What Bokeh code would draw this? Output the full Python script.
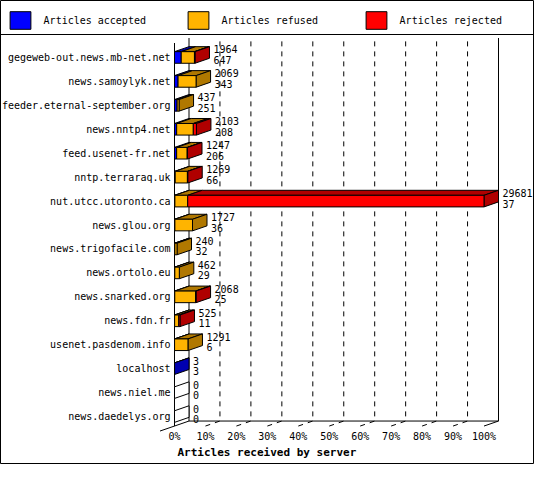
from bokeh.plotting import figure
from bokeh.models import Range1d, Span, Legend, LegendItem
from bokeh.core.properties import value
from bokeh.embed import file_html
from bokeh.resources import INLINE

# ---------------- data ----------------
hosts = [
    "gegeweb-out.news.mb-net.net",
    "news.samoylyk.net",
    "feeder.eternal-september.org",
    "news.nntp4.net",
    "feed.usenet-fr.net",
    "nntp.terraraq.uk",
    "nut.utcc.utoronto.ca",
    "news.glou.org",
    "news.trigofacile.com",
    "news.ortolo.eu",
    "news.snarked.org",
    "news.fdn.fr",
    "usenet.pasdenom.info",
    "localhost",
    "news.niel.me",
    "news.daedelys.org",
]
totals   = [1964, 2069, 437, 2103, 1247, 1269, 29681, 1727, 240, 462, 2068, 525, 1291, 3, 0, 0]
accepted = [647, 343, 251, 208, 206, 66, 37, 36, 32, 29, 25, 11, 6, 3, 0, 0]
refused  = [1267, 1726, 186, 1595, 1011, 1173, 1230, 1691, 208, 433, 1993, 394, 1285, 0, 0, 0]
rejected = [50, 0, 0, 300, 30, 30, 28414, 0, 0, 0, 50, 120, 0, 0, 0, 0]

series_names = ["Articles accepted", "Articles refused", "Articles rejected"]
front_colors = ["#0000FF", "#FFB400", "#FF0000"]
shade_colors = ["#0000B0", "#B07800", "#B00000"]
tick_labels = ["0%", "10%", "20%", "30%", "40%", "50%", "60%", "70%", "80%", "90%", "100%"]
axis_title = "Articles received by server"

FONT_NAME = "DejaVu Sans Mono"
FONT = value(FONT_NAME)

# ---------------- layout (pixels) ----------------
W, H = 534, 464
X0, X1 = 174.0, 483.5      # front plane: 0 and max
DXP, DYP = 14.5, 5.0       # 3D depth offset
YT, RH = 42.5, 23.94       # top of first row band, row height
FH = 11.6                  # front-face height
SEP = 34.0                 # legend separator line

xmax = max(totals)
ppx = xmax / (X1 - X0)
n = len(hosts)

p = figure(width=W, height=H, output_backend="svg", toolbar_location=None,
           x_range=Range1d(-X0 * ppx, (W - X0) * ppx),
           y_range=Range1d((H - YT) / RH, -YT / RH),
           x_axis_location=None, y_axis_location=None,
           min_border=0, min_border_left=0, min_border_right=0,
           min_border_top=0, min_border_bottom=0)
p.outline_line_color = "black"
p.outline_line_width = 1
p.background_fill_color = "white"
p.border_fill_color = "white"
p.xgrid.visible = False
p.ygrid.visible = False

dx = DXP * ppx
dy = DYP / RH
hf = FH / RH

# legend separator
p.add_layout(Span(location=(SEP - YT) / RH, dimension="width",
                  line_color="black", line_width=1))

# ---------------- back wall / floor ----------------
grid_xs, grid_ys = [], []
for k in range(1, 10):
    xk = xmax * k / 10
    grid_xs.append([xk, xk + dx, xk + dx])
    grid_ys.append([n, n - dy, -dy])
p.multi_line(grid_xs, grid_ys, line_color="black", line_width=1, line_dash="5 5")

frame_xs = [
    [0, 0],                       # front left
    [dx, dx],                     # back left
    [xmax + dx, xmax + dx],       # back right
    [dx, xmax + dx],              # back floor edge
    [-dx, dx],                    # left floor slant
    [xmax, xmax + dx],            # right floor slant
]
frame_ys = [
    [0, n],
    [-dy, n - dy],
    [-dy, n - dy],
    [n - dy, n - dy],
    [n + dy, n - dy],
    [n, n - dy],
]
p.multi_line(frame_xs, frame_ys, line_color="black", line_width=1)

# ---------------- bars ----------------
fronts = [dict(left=[], right=[], top=[], bottom=[]) for _ in range(3)]
tops = [dict(xs=[], ys=[]) for _ in range(3)]
sides = [dict(xs=[], ys=[]) for _ in range(3)]
empty = dict(xs=[], ys=[])

for i in range(n):
    yc = i + 0.5
    full = hf + dy
    ft = yc - full / 2 + dy
    fb = yc + full / 2
    segs = [accepted[i], refused[i], rejected[i]]
    start = 0
    last = None
    for c, v in enumerate(segs):
        if v <= 0:
            continue
        a, b = start, start + v
        fronts[c]["left"].append(a)
        fronts[c]["right"].append(b)
        fronts[c]["top"].append(ft)
        fronts[c]["bottom"].append(fb)
        tops[c]["xs"].append([a, b, b + dx, a + dx])
        tops[c]["ys"].append([ft, ft, ft - dy, ft - dy])
        start = b
        last = c
    side_x = [start, start + dx, start + dx, start]
    side_y = [ft, ft - dy, fb - dy, fb]
    if last is None:
        empty["xs"].append(side_x)
        empty["ys"].append(side_y)
    else:
        sides[last]["xs"].append(side_x)
        sides[last]["ys"].append(side_y)

p.patches(empty["xs"], empty["ys"], fill_color="white", line_color="black", line_width=1)

front_renderers = []
for c in range(3):
    p.patches(tops[c]["xs"], tops[c]["ys"], fill_color=shade_colors[c],
              line_color="black", line_width=1)
    p.patches(sides[c]["xs"], sides[c]["ys"], fill_color=shade_colors[c],
              line_color="black", line_width=1)
for c in range(3):
    r = p.quad(left=fronts[c]["left"], right=fronts[c]["right"],
               top=fronts[c]["top"], bottom=fronts[c]["bottom"],
               fill_color=front_colors[c], line_color="black", line_width=1)
    front_renderers.append(r)

# ---------------- texts ----------------
rows_c = [i + 0.5 for i in range(n)]
front_c = [i + 0.5 + dy / 2 for i in range(n)]

p.text(x=[0] * n, y=front_c, text=hosts, x_offset=-4,
       text_align="right", text_baseline="middle",
       text_font=FONT, text_font_size="10px", text_color="black")

lab_x = [t + dx for t in totals]
p.text(x=lab_x, y=rows_c, text=[str(t) for t in totals], x_offset=4, y_offset=-5.5,
       text_align="left", text_baseline="middle",
       text_font=FONT, text_font_size="10px", text_color="black")
p.text(x=lab_x, y=rows_c, text=[str(a) for a in accepted], x_offset=4, y_offset=5,
       text_align="left", text_baseline="middle",
       text_font=FONT, text_font_size="10px", text_color="black")

tick_x = [xmax * k / 10 for k in range(len(tick_labels))]
p.text(x=tick_x, y=[n] * len(tick_x), text=tick_labels, y_offset=10,
       text_align="center", text_baseline="middle",
       text_font=FONT, text_font_size="10px", text_color="black")

p.text(x=[0], y=[n], text=[axis_title], x_offset=3, y_offset=26,
       text_align="left", text_baseline="middle",
       text_font=FONT, text_font_size="11px", text_font_style="bold",
       text_color="black")

# ---------------- legend ----------------
legend = Legend(
    items=[LegendItem(label=series_names[c], renderers=[front_renderers[c]]) for c in range(3)],
    orientation="horizontal", location=(6.6, 432.75),
    glyph_width=26, glyph_height=22, label_standoff=11, label_width=130, spacing=11,
    padding=5, margin=0, border_line_color=None, background_fill_alpha=0,
    label_text_font=FONT_NAME, label_text_font_size="10px", label_text_color="black",
)
p.add_layout(legend)

open("out.html", "w").write(file_html(p, INLINE))
